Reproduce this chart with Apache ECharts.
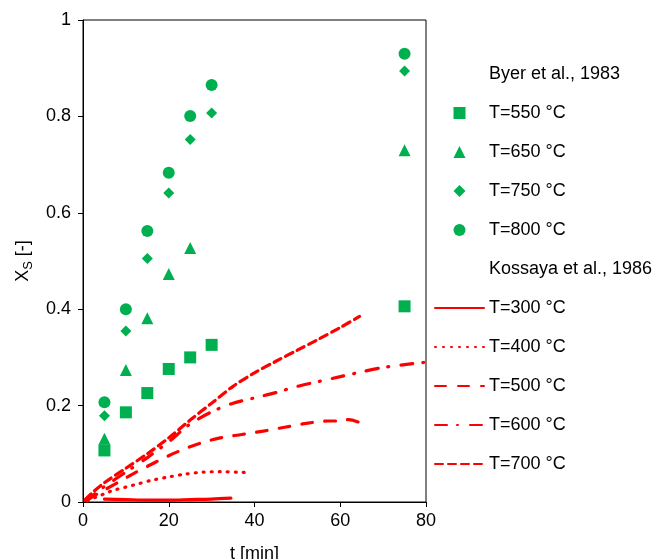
<!DOCTYPE html>
<html>
<head>
<meta charset="utf-8">
<script src="https://cdn.jsdelivr.net/npm/echarts@6/dist/echarts.min.js"></script>
<style>
  html, body { margin: 0; padding: 0; background: #fff; }
  #chart { width: 657px; height: 559px; }
</style>
</head>
<body>
<div id="chart"></div>
<script>
// Byer et al., 1983 — measured conversion (times in min)
const byerT550 = [5, 10, 15, 20, 25, 30, 75];
const byerX550 = [0.107, 0.186, 0.226, 0.276, 0.300, 0.326, 0.406];
const byerT650 = [5, 10, 15, 20, 25, 75];
const byerX650 = [0.131, 0.274, 0.381, 0.473, 0.527, 0.730];
const byerT750 = [5, 10, 15, 20, 25, 30, 75];
const byerX750 = [0.179, 0.355, 0.505, 0.641, 0.752, 0.807, 0.894];
const byerT800 = [5, 10, 15, 20, 25, 30, 75];
const byerX800 = [0.207, 0.400, 0.562, 0.683, 0.801, 0.865, 0.930];

// Kossaya et al., 1986 — conversion curves
const kosT300 = [5, 10, 15, 20, 25, 30, 34.5];
const kosX300 = [0.006, 0.005, 0.004, 0.004, 0.005, 0.006, 0.008];
const kosT400 = [1, 3, 5, 7, 10, 13, 16, 20, 24, 28, 32, 36, 39];
const kosX400 = [0.002, 0.010, 0.017, 0.024, 0.031, 0.038, 0.045, 0.052, 0.058, 0.062, 0.063, 0.062, 0.061];
const kosT500 = [1, 3, 5, 8, 12, 17, 22, 27, 32, 37, 42, 47, 52, 57, 60, 62, 64.5];
const kosX500 = [0.004, 0.015, 0.025, 0.040, 0.060, 0.083, 0.104, 0.121, 0.133, 0.140, 0.147, 0.155, 0.163, 0.168, 0.168, 0.171, 0.165];
const kosT600 = [0.5, 2, 5, 10, 15, 20, 25, 30, 35, 40, 45, 50, 55, 60, 65, 70, 75, 80];
const kosX600 = [0.003, 0.012, 0.032, 0.062, 0.092, 0.125, 0.162, 0.187, 0.205, 0.216, 0.227, 0.240, 0.250, 0.260, 0.270, 0.279, 0.285, 0.290];
const kosT700 = [0.5, 2, 5, 10, 15, 20, 25, 30, 35, 40, 45, 50, 55, 60, 64.5];
const kosX700 = [0.005, 0.018, 0.040, 0.070, 0.100, 0.133, 0.170, 0.205, 0.240, 0.268, 0.292, 0.315, 0.338, 0.362, 0.385];

// Axis ticks
const xTicks = [0, 20, 40, 60, 80];
const yTicks = [0, 0.2, 0.4, 0.6, 0.8, 1];

const pairs = (t, x) => t.map((v, i) => [v, x[i]]);

const GREEN = '#00b050';
const RED = '#ff0000';
const FONT = '"Liberation Sans", Arial, sans-serif';

// Marker outlines as paths so legend icons keep their proportions
const MARKER_PATHS = {
  rect: 'path://M0,0L1,0L1,1L0,1Z',
  triangle: 'path://M0.5,0L1,1L0,1Z',
  diamond: 'path://M0.5,0L1,0.5L0.5,1L0,0.5Z',
  circle: 'path://M0,0.5A0.5,0.5,0,1,1,1,0.5A0.5,0.5,0,1,1,0,0.5Z'
};

function scatter(name, t, x, symbol, size) {
  return {
    name, type: 'scatter', data: pairs(t, x), symbol, symbolSize: size,
    itemStyle: { color: GREEN, opacity: 1 }
  };
}
function curve(name, t, x, dash) {
  return {
    name, type: 'line', data: pairs(t, x), showSymbol: false, symbol: 'none',
    smooth: 0.3,
    itemStyle: { color: RED },
    lineStyle: { color: RED, width: 3.2, type: dash, cap: 'round' }
  };
}

const series = [
  { name: 'Byer et al., 1983', type: 'line', data: [] },
  scatter('T=550 °C', byerT550, byerX550, 'rect', 12),
  scatter('T=650 °C', byerT650, byerX650, 'triangle', 12),
  scatter('T=750 °C', byerT750, byerX750, 'diamond', 11),
  scatter('T=800 °C', byerT800, byerX800, 'circle', 12),
  { name: 'Kossaya et al., 1986', type: 'line', data: [] },
  curve('T=300 °C', kosT300, kosX300, 'solid'),
  curve('T=400 °C', kosT400, kosX400, [1, 7]),
  curve('T=500 °C', kosT500, kosX500, [11, 12]),
  curve('T=600 °C', kosT600, kosX600, [12, 10, 1, 12]),
  curve('T=700 °C', kosT700, kosX700, [8, 5])
];

// Legend entries: group headers carry no icon, line entries show only their stroke
function legendEntry(s) {
  if (s.data.length === 0) return { name: s.name, icon: 'none' };
  if (s.type === 'scatter') return { name: s.name, icon: MARKER_PATHS[s.symbol] };
  return { name: s.name, itemStyle: { color: 'rgba(0,0,0,0)', opacity: 0, borderWidth: 0 } };
}

const chart = echarts.init(document.getElementById('chart'), null, { renderer: 'canvas' });
chart.setOption({
  backgroundColor: '#fff',
  animation: false,
  textStyle: { fontFamily: FONT },
  grid: {
    left: 83, right: 231, top: 20, bottom: 57,
    containLabel: false, outerBoundsMode: 'none',
    show: true, borderColor: '#000', borderWidth: 1, backgroundColor: 'transparent'
  },
  legend: {
    orient: 'vertical',
    left: 434, top: 65, padding: 0,
    itemWidth: 49, itemHeight: 12, itemGap: 21,
    symbolKeepAspect: true,
    textStyle: { fontSize: 18, color: '#000', fontFamily: FONT },
    data: series.map(legendEntry)
  },
  xAxis: {
    type: 'value', min: xTicks[0], max: xTicks[xTicks.length - 1], interval: 20,
    name: 't [min]', nameLocation: 'middle', nameGap: 43,
    nameTextStyle: { fontSize: 18, color: '#000', fontFamily: FONT },
    axisLine: { lineStyle: { color: '#000', width: 1 } },
    axisTick: { show: true, length: 5, lineStyle: { color: '#000' } },
    axisLabel: { fontSize: 18, color: '#000', margin: 10, fontFamily: FONT },
    splitLine: { show: false }
  },
  yAxis: {
    type: 'value', min: yTicks[0], max: yTicks[yTicks.length - 1], interval: 0.2,
    name: '{a|X}{b|S}{a| [-]}', nameLocation: 'middle', nameGap: 48,
    nameTextStyle: {
      color: '#000', fontFamily: FONT,
      rich: {
        a: { fontSize: 18, color: '#000', fontFamily: FONT, lineHeight: 24, verticalAlign: 'middle' },
        b: { fontSize: 13, color: '#000', fontFamily: FONT, lineHeight: 24, verticalAlign: 'bottom' }
      }
    },
    axisLine: { lineStyle: { color: '#000', width: 1 } },
    axisTick: { show: true, length: 5, lineStyle: { color: '#000' } },
    axisLabel: { fontSize: 18, color: '#000', margin: 12, fontFamily: FONT },
    splitLine: { show: false }
  },
  series
});
</script>
</body>
</html>
